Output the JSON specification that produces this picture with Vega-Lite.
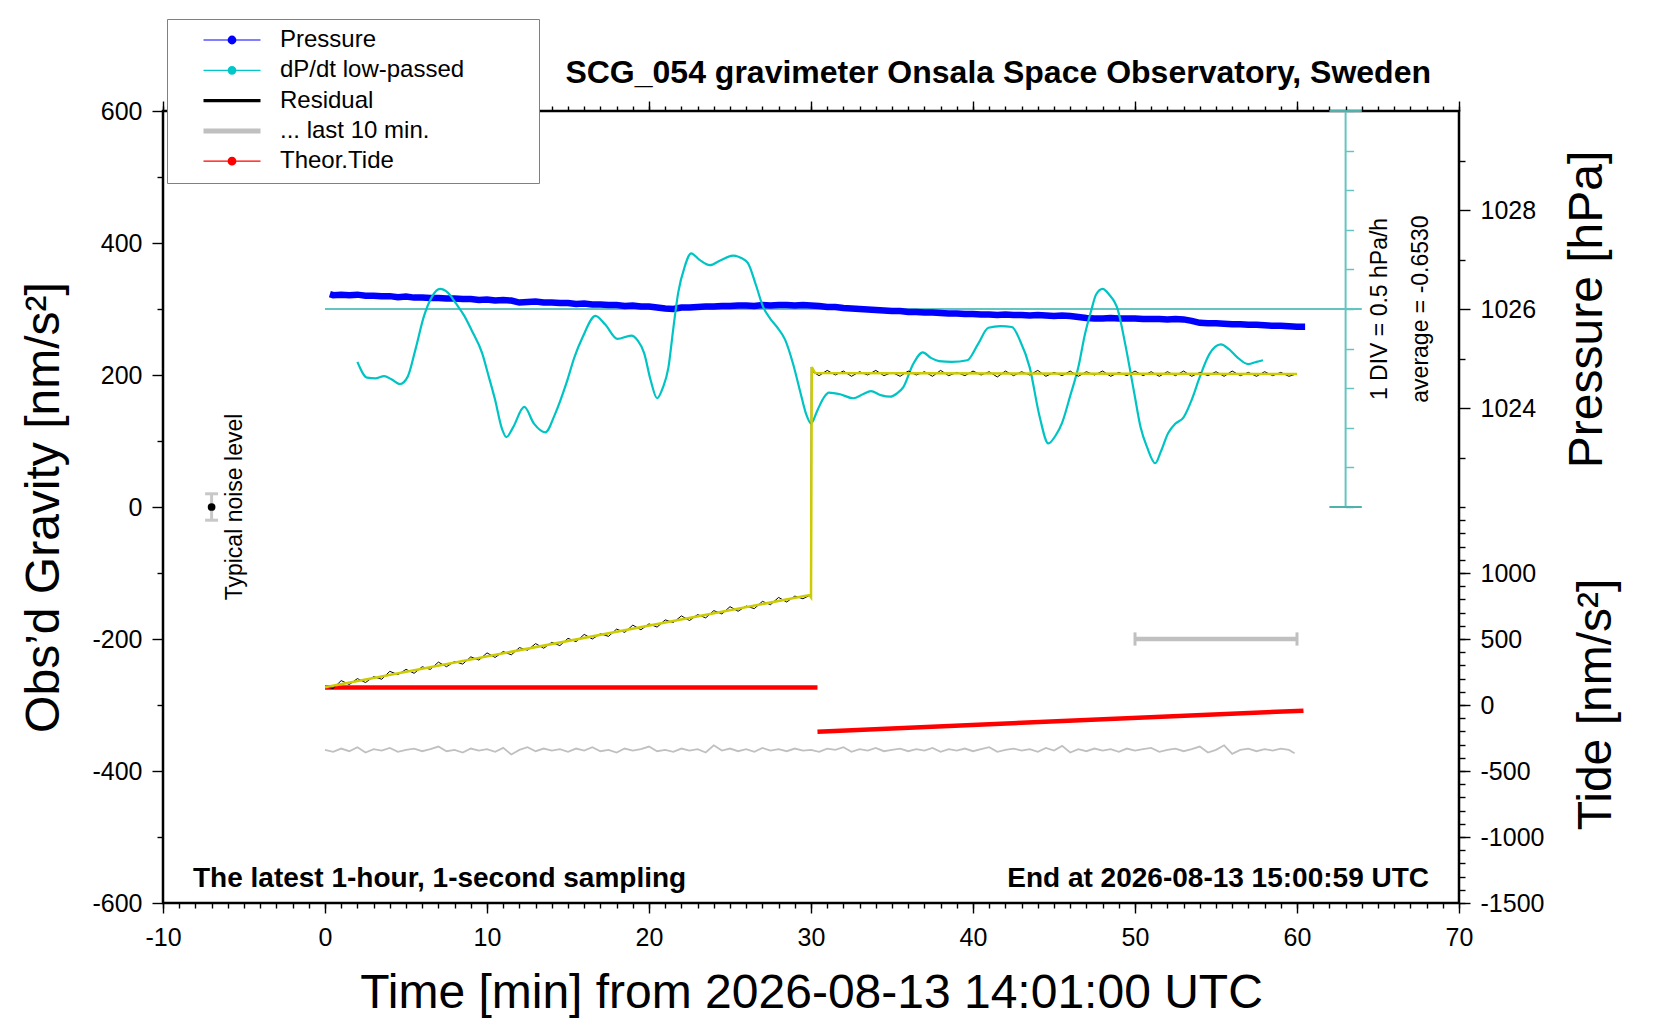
{
  "$schema": "https://vega.github.io/schema/vega-lite/v6.json",
  "width": 1296,
  "height": 792,
  "autosize": {"type": "none"},
  "padding": {"left": 163, "top": 111, "right": 201, "bottom": 117},
  "background": "white",
  "title": {
    "text": "SCG_054 gravimeter Onsala Space Observatory, Sweden",
    "anchor": "end",
    "frame": "group",
    "dx": -28,
    "offset": -96,
    "baseline": "alphabetic",
    "font": "Liberation Sans",
    "fontSize": 32,
    "fontWeight": "bold",
    "color": "black"
  },
  "config": {
    "font": "Liberation Sans",
    "view": {"stroke": "black", "strokeWidth": 2.5},
    "axis": {
      "grid": false,
      "domain": false,
      "tickColor": "black",
      "tickWidth": 1.4,
      "labelFont": "Liberation Sans",
      "labelFontSize": 25,
      "labelColor": "black",
      "labelFlush": false,
      "labelOverlap": false,
      "labelExpr": "'' + datum.value",
      "titleFont": "Liberation Sans",
      "titleFontWeight": "normal",
      "titleColor": "black",
      "titleFontSize": 48
    },
    "text": {"font": "Liberation Sans", "color": "black"}
  },
  "datasets": {
    "pressure": [
      {"t": 0.3, "p": 1026.3}, {"t": 0.5, "p": 1026.28}, {"t": 1, "p": 1026.29}, {"t": 1.5, "p": 1026.28}, {"t": 2, "p": 1026.29},
      {"t": 2.5, "p": 1026.27}, {"t": 3, "p": 1026.27}, {"t": 3.5, "p": 1026.26}, {"t": 4, "p": 1026.26}, {"t": 4.5, "p": 1026.24},
      {"t": 5, "p": 1026.25}, {"t": 5.5, "p": 1026.23}, {"t": 6, "p": 1026.23}, {"t": 6.5, "p": 1026.22}, {"t": 7, "p": 1026.22},
      {"t": 7.5, "p": 1026.21}, {"t": 8, "p": 1026.21}, {"t": 8.5, "p": 1026.2}, {"t": 9, "p": 1026.2}, {"t": 9.5, "p": 1026.18},
      {"t": 10, "p": 1026.19}, {"t": 10.5, "p": 1026.17}, {"t": 11, "p": 1026.18}, {"t": 11.5, "p": 1026.17}, {"t": 12, "p": 1026.13},
      {"t": 12.5, "p": 1026.14}, {"t": 13, "p": 1026.15}, {"t": 13.5, "p": 1026.13}, {"t": 14, "p": 1026.13}, {"t": 14.5, "p": 1026.12},
      {"t": 15, "p": 1026.12}, {"t": 15.5, "p": 1026.1}, {"t": 16, "p": 1026.11}, {"t": 16.5, "p": 1026.09}, {"t": 17, "p": 1026.09},
      {"t": 17.5, "p": 1026.08}, {"t": 18, "p": 1026.08}, {"t": 18.5, "p": 1026.06}, {"t": 19, "p": 1026.07}, {"t": 19.5, "p": 1026.05},
      {"t": 20, "p": 1026.05}, {"t": 20.5, "p": 1026.03}, {"t": 21, "p": 1026.01}, {"t": 21.5, "p": 1026.0}, {"t": 22, "p": 1026.03},
      {"t": 22.5, "p": 1026.03}, {"t": 23, "p": 1026.04}, {"t": 23.5, "p": 1026.05}, {"t": 24, "p": 1026.05}, {"t": 24.5, "p": 1026.06},
      {"t": 25, "p": 1026.06}, {"t": 25.5, "p": 1026.07}, {"t": 26, "p": 1026.07}, {"t": 26.5, "p": 1026.06}, {"t": 27, "p": 1026.08},
      {"t": 27.5, "p": 1026.07}, {"t": 28, "p": 1026.08}, {"t": 28.5, "p": 1026.08}, {"t": 29, "p": 1026.07}, {"t": 29.5, "p": 1026.08},
      {"t": 30, "p": 1026.07}, {"t": 30.5, "p": 1026.06}, {"t": 31, "p": 1026.04}, {"t": 31.5, "p": 1026.04}, {"t": 32, "p": 1026.02},
      {"t": 32.5, "p": 1026.01}, {"t": 33, "p": 1026.0}, {"t": 33.5, "p": 1025.99}, {"t": 34, "p": 1025.98}, {"t": 34.5, "p": 1025.97},
      {"t": 35, "p": 1025.96}, {"t": 35.5, "p": 1025.96}, {"t": 36, "p": 1025.94}, {"t": 36.5, "p": 1025.94}, {"t": 37, "p": 1025.93},
      {"t": 37.5, "p": 1025.93}, {"t": 38, "p": 1025.92}, {"t": 38.5, "p": 1025.91}, {"t": 39, "p": 1025.91}, {"t": 39.5, "p": 1025.9},
      {"t": 40, "p": 1025.9}, {"t": 40.5, "p": 1025.89}, {"t": 41, "p": 1025.89}, {"t": 41.5, "p": 1025.88}, {"t": 42, "p": 1025.89},
      {"t": 42.5, "p": 1025.88}, {"t": 43, "p": 1025.88}, {"t": 43.5, "p": 1025.87}, {"t": 44, "p": 1025.88}, {"t": 44.5, "p": 1025.87},
      {"t": 45, "p": 1025.86}, {"t": 45.5, "p": 1025.87}, {"t": 46, "p": 1025.86}, {"t": 46.5, "p": 1025.84}, {"t": 47, "p": 1025.82},
      {"t": 47.5, "p": 1025.81}, {"t": 48, "p": 1025.81}, {"t": 48.5, "p": 1025.82}, {"t": 49, "p": 1025.81}, {"t": 49.5, "p": 1025.81},
      {"t": 50, "p": 1025.81}, {"t": 50.5, "p": 1025.8}, {"t": 51, "p": 1025.8}, {"t": 51.5, "p": 1025.8}, {"t": 52, "p": 1025.79},
      {"t": 52.5, "p": 1025.8}, {"t": 53, "p": 1025.79}, {"t": 53.5, "p": 1025.76}, {"t": 54, "p": 1025.72}, {"t": 54.5, "p": 1025.71},
      {"t": 55, "p": 1025.71}, {"t": 55.5, "p": 1025.7}, {"t": 56, "p": 1025.69}, {"t": 56.5, "p": 1025.69}, {"t": 57, "p": 1025.68},
      {"t": 57.5, "p": 1025.68}, {"t": 58, "p": 1025.67}, {"t": 58.5, "p": 1025.66}, {"t": 59, "p": 1025.66}, {"t": 59.5, "p": 1025.65},
      {"t": 60, "p": 1025.64}, {"t": 60.5, "p": 1025.64}
    ],
    "dpdt": [
      {"t": 2.0, "v": -1.32}, {"t": 2.6, "v": -1.52}, {"t": 3.1, "v": -1.53}, {"t": 3.65, "v": -1.5}, {"t": 4.1, "v": -1.54},
      {"t": 4.63, "v": -1.6}, {"t": 5.1, "v": -1.51}, {"t": 5.6, "v": -1.15}, {"t": 6.1, "v": -0.75}, {"t": 6.6, "v": -0.5},
      {"t": 7.1, "v": -0.4}, {"t": 7.6, "v": -0.45}, {"t": 8.07, "v": -0.58}, {"t": 8.6, "v": -0.74}, {"t": 9.05, "v": -0.92},
      {"t": 9.7, "v": -1.21}, {"t": 10.1, "v": -1.5}, {"t": 10.5, "v": -1.8}, {"t": 10.9, "v": -2.15}, {"t": 11.2, "v": -2.27},
      {"t": 11.6, "v": -2.15}, {"t": 12.3, "v": -1.89}, {"t": 12.9, "v": -2.1}, {"t": 13.6, "v": -2.21}, {"t": 14.2, "v": -1.98},
      {"t": 14.9, "v": -1.59}, {"t": 15.4, "v": -1.26}, {"t": 15.9, "v": -1.01}, {"t": 16.7, "v": -0.74}, {"t": 17.3, "v": -0.85},
      {"t": 18.05, "v": -1.03}, {"t": 18.9, "v": -0.99}, {"t": 19.3, "v": -1.05}, {"t": 19.7, "v": -1.21}, {"t": 20.1, "v": -1.55},
      {"t": 20.5, "v": -1.78}, {"t": 20.85, "v": -1.65}, {"t": 21.2, "v": -1.39}, {"t": 21.5, "v": -0.9}, {"t": 21.8, "v": -0.45},
      {"t": 22.2, "v": -0.12}, {"t": 22.6, "v": 0.05}, {"t": 23.1, "v": -0.03}, {"t": 23.75, "v": -0.1}, {"t": 24.4, "v": -0.04},
      {"t": 25.2, "v": 0.02}, {"t": 25.7, "v": -0.01}, {"t": 26.1, "v": -0.07}, {"t": 26.6, "v": -0.35}, {"t": 27.05, "v": -0.63},
      {"t": 27.5, "v": -0.78}, {"t": 27.9, "v": -0.88}, {"t": 28.4, "v": -1.04}, {"t": 28.9, "v": -1.35}, {"t": 29.35, "v": -1.71},
      {"t": 29.7, "v": -1.98}, {"t": 30.0, "v": -2.1}, {"t": 30.4, "v": -1.93}, {"t": 30.8, "v": -1.77}, {"t": 31.1, "v": -1.71},
      {"t": 31.8, "v": -1.73}, {"t": 32.6, "v": -1.78}, {"t": 33.2, "v": -1.73}, {"t": 33.7, "v": -1.69}, {"t": 34.3, "v": -1.74},
      {"t": 34.9, "v": -1.76}, {"t": 35.3, "v": -1.72}, {"t": 35.7, "v": -1.64}, {"t": 36.3, "v": -1.35}, {"t": 36.9, "v": -1.2},
      {"t": 37.4, "v": -1.27}, {"t": 37.9, "v": -1.31}, {"t": 38.7, "v": -1.32}, {"t": 39.65, "v": -1.3}, {"t": 40.3, "v": -1.1},
      {"t": 40.95, "v": -0.89}, {"t": 41.7, "v": -0.87}, {"t": 42.4, "v": -0.88}, {"t": 42.9, "v": -1.05}, {"t": 43.5, "v": -1.39},
      {"t": 44.1, "v": -2.0}, {"t": 44.65, "v": -2.35}, {"t": 45.1, "v": -2.25}, {"t": 45.5, "v": -2.09}, {"t": 46.0, "v": -1.75},
      {"t": 46.5, "v": -1.39}, {"t": 46.9, "v": -0.98}, {"t": 47.3, "v": -0.67}, {"t": 47.6, "v": -0.47}, {"t": 48.0, "v": -0.4},
      {"t": 48.4, "v": -0.47}, {"t": 48.95, "v": -0.67}, {"t": 49.4, "v": -1.1}, {"t": 49.95, "v": -1.71}, {"t": 50.35, "v": -2.15},
      {"t": 50.75, "v": -2.4}, {"t": 51.25, "v": -2.6}, {"t": 51.6, "v": -2.45}, {"t": 52.05, "v": -2.22}, {"t": 52.5, "v": -2.1},
      {"t": 53.0, "v": -2.02}, {"t": 53.5, "v": -1.8}, {"t": 54.0, "v": -1.51}, {"t": 54.6, "v": -1.22}, {"t": 55.3, "v": -1.1},
      {"t": 55.8, "v": -1.16}, {"t": 56.3, "v": -1.26}, {"t": 57.0, "v": -1.35}, {"t": 57.5, "v": -1.32}, {"t": 57.9, "v": -1.3}
    ],
    "residual": [
      {"t": 0, "g": -272}, {"t": 0.5, "g": -275}, {"t": 1, "g": -263}, {"t": 1.5, "g": -269}, {"t": 2, "g": -260},
      {"t": 2.5, "g": -266}, {"t": 3, "g": -257}, {"t": 3.5, "g": -261}, {"t": 4, "g": -249}, {"t": 4.5, "g": -254},
      {"t": 5, "g": -246}, {"t": 5.5, "g": -252}, {"t": 6, "g": -242}, {"t": 6.5, "g": -246}, {"t": 7, "g": -235},
      {"t": 7.5, "g": -242}, {"t": 8, "g": -234}, {"t": 8.5, "g": -238}, {"t": 9, "g": -227}, {"t": 9.5, "g": -232},
      {"t": 10, "g": -221}, {"t": 10.5, "g": -228}, {"t": 11, "g": -219}, {"t": 11.5, "g": -224}, {"t": 12, "g": -213},
      {"t": 12.5, "g": -217}, {"t": 13, "g": -207}, {"t": 13.5, "g": -214}, {"t": 14, "g": -205}, {"t": 14.5, "g": -210},
      {"t": 15, "g": -199}, {"t": 15.5, "g": -204}, {"t": 16, "g": -193}, {"t": 16.5, "g": -200}, {"t": 17, "g": -192},
      {"t": 17.5, "g": -196}, {"t": 18, "g": -185}, {"t": 18.5, "g": -190}, {"t": 19, "g": -179}, {"t": 19.5, "g": -186},
      {"t": 20, "g": -177}, {"t": 20.5, "g": -182}, {"t": 21, "g": -171}, {"t": 21.5, "g": -175}, {"t": 22, "g": -165},
      {"t": 22.5, "g": -172}, {"t": 23, "g": -163}, {"t": 23.5, "g": -168}, {"t": 24, "g": -157}, {"t": 24.5, "g": -162},
      {"t": 25, "g": -151}, {"t": 25.5, "g": -158}, {"t": 26, "g": -150}, {"t": 26.5, "g": -154}, {"t": 27, "g": -143},
      {"t": 27.5, "g": -148}, {"t": 28, "g": -137}, {"t": 28.5, "g": -144}, {"t": 29, "g": -135}, {"t": 29.5, "g": -139},
      {"t": 29.9, "g": -134}, {"t": 30.0, "g": -130}, {"t": 30.02, "g": 212}, {"t": 30.1, "g": 205}, {"t": 30.5, "g": 199},
      {"t": 31, "g": 207}, {"t": 31.5, "g": 200}, {"t": 32, "g": 206}, {"t": 32.5, "g": 198}, {"t": 33, "g": 205},
      {"t": 33.5, "g": 200}, {"t": 34, "g": 207}, {"t": 34.5, "g": 199}, {"t": 35, "g": 204}, {"t": 35.5, "g": 198},
      {"t": 36, "g": 206}, {"t": 36.5, "g": 200}, {"t": 37, "g": 205}, {"t": 37.5, "g": 198}, {"t": 38, "g": 207},
      {"t": 38.5, "g": 199}, {"t": 39, "g": 204}, {"t": 39.5, "g": 199}, {"t": 40, "g": 206}, {"t": 40.5, "g": 200},
      {"t": 41, "g": 205}, {"t": 41.5, "g": 197}, {"t": 42, "g": 206}, {"t": 42.5, "g": 199}, {"t": 43, "g": 205},
      {"t": 43.5, "g": 200}, {"t": 44, "g": 207}, {"t": 44.5, "g": 198}, {"t": 45, "g": 204}, {"t": 45.5, "g": 199},
      {"t": 46, "g": 206}, {"t": 46.5, "g": 198}, {"t": 47, "g": 205}, {"t": 47.5, "g": 200}, {"t": 48, "g": 206},
      {"t": 48.5, "g": 198}, {"t": 49, "g": 204}, {"t": 49.5, "g": 199}, {"t": 50, "g": 206}, {"t": 50.5, "g": 199},
      {"t": 51, "g": 205}, {"t": 51.5, "g": 198}, {"t": 52, "g": 205}, {"t": 52.5, "g": 199}, {"t": 53, "g": 206},
      {"t": 53.5, "g": 198}, {"t": 54, "g": 204}, {"t": 54.5, "g": 199}, {"t": 55, "g": 205}, {"t": 55.5, "g": 198},
      {"t": 56, "g": 206}, {"t": 56.5, "g": 199}, {"t": 57, "g": 204}, {"t": 57.5, "g": 198}, {"t": 58, "g": 205},
      {"t": 58.5, "g": 199}, {"t": 59, "g": 204}, {"t": 59.5, "g": 198}, {"t": 60, "g": 202}
    ],
    "fit": [
      {"t": 0, "g": -273}, {"t": 29.9, "g": -133.5}, {"t": 30.0, "g": -137}, {"t": 30.05, "g": 212}, {"t": 30.25, "g": 203}, {"t": 60, "g": 201.5}
    ],
    "noise": [
      {"t": 0, "g": -368}, {"t": 0.5, "g": -371}, {"t": 1, "g": -366}, {"t": 1.5, "g": -370}, {"t": 2, "g": -364},
      {"t": 2.5, "g": -372}, {"t": 3, "g": -367}, {"t": 3.5, "g": -369}, {"t": 4, "g": -365}, {"t": 4.5, "g": -371},
      {"t": 5, "g": -368}, {"t": 5.5, "g": -366}, {"t": 6, "g": -370}, {"t": 6.5, "g": -367}, {"t": 7, "g": -363},
      {"t": 7.5, "g": -370}, {"t": 8, "g": -368}, {"t": 8.5, "g": -372}, {"t": 9, "g": -366}, {"t": 9.5, "g": -369},
      {"t": 10, "g": -367}, {"t": 10.5, "g": -371}, {"t": 11, "g": -365}, {"t": 11.5, "g": -375}, {"t": 12, "g": -368},
      {"t": 12.5, "g": -364}, {"t": 13, "g": -370}, {"t": 13.5, "g": -366}, {"t": 14, "g": -369}, {"t": 14.5, "g": -367},
      {"t": 15, "g": -371}, {"t": 15.5, "g": -366}, {"t": 16, "g": -369}, {"t": 16.5, "g": -364}, {"t": 17, "g": -370},
      {"t": 17.5, "g": -368}, {"t": 18, "g": -372}, {"t": 18.5, "g": -366}, {"t": 19, "g": -369}, {"t": 19.5, "g": -367},
      {"t": 20, "g": -363}, {"t": 20.5, "g": -370}, {"t": 21, "g": -368}, {"t": 21.5, "g": -371}, {"t": 22, "g": -366},
      {"t": 22.5, "g": -369}, {"t": 23, "g": -367}, {"t": 23.5, "g": -372}, {"t": 24, "g": -361}, {"t": 24.5, "g": -369},
      {"t": 25, "g": -366}, {"t": 25.5, "g": -370}, {"t": 26, "g": -367}, {"t": 26.5, "g": -371}, {"t": 27, "g": -365},
      {"t": 27.5, "g": -369}, {"t": 28, "g": -367}, {"t": 28.5, "g": -370}, {"t": 29, "g": -366}, {"t": 29.5, "g": -369},
      {"t": 30, "g": -368}, {"t": 30.5, "g": -371}, {"t": 31, "g": -366}, {"t": 31.5, "g": -368}, {"t": 32, "g": -364},
      {"t": 32.5, "g": -371}, {"t": 33, "g": -367}, {"t": 33.5, "g": -369}, {"t": 34, "g": -365}, {"t": 34.5, "g": -370},
      {"t": 35, "g": -368}, {"t": 35.5, "g": -366}, {"t": 36, "g": -370}, {"t": 36.5, "g": -367}, {"t": 37, "g": -369},
      {"t": 37.5, "g": -365}, {"t": 38, "g": -371}, {"t": 38.5, "g": -367}, {"t": 39, "g": -369}, {"t": 39.5, "g": -366},
      {"t": 40, "g": -370}, {"t": 40.5, "g": -367}, {"t": 41, "g": -364}, {"t": 41.5, "g": -371}, {"t": 42, "g": -368},
      {"t": 42.5, "g": -366}, {"t": 43, "g": -369}, {"t": 43.5, "g": -367}, {"t": 44, "g": -371}, {"t": 44.5, "g": -365},
      {"t": 45, "g": -369}, {"t": 45.5, "g": -362}, {"t": 46, "g": -372}, {"t": 46.5, "g": -367}, {"t": 47, "g": -370},
      {"t": 47.5, "g": -366}, {"t": 48, "g": -369}, {"t": 48.5, "g": -367}, {"t": 49, "g": -371}, {"t": 49.5, "g": -366},
      {"t": 50, "g": -369}, {"t": 50.5, "g": -367}, {"t": 51, "g": -365}, {"t": 51.5, "g": -371}, {"t": 52, "g": -368},
      {"t": 52.5, "g": -366}, {"t": 53, "g": -370}, {"t": 53.5, "g": -367}, {"t": 54, "g": -363}, {"t": 54.5, "g": -372},
      {"t": 55, "g": -368}, {"t": 55.5, "g": -361}, {"t": 56, "g": -374}, {"t": 56.5, "g": -368}, {"t": 57, "g": -366},
      {"t": 57.5, "g": -370}, {"t": 58, "g": -367}, {"t": 58.5, "g": -369}, {"t": 59, "g": -366}, {"t": 59.5, "g": -368},
      {"t": 59.85, "g": -373}
    ],
    "tide": [
      {"t": 0, "tide": 132, "seg": "a"}, {"t": 30.4, "tide": 132, "seg": "a"},
      {"t": 30.4, "tide": -202, "seg": "b"}, {"t": 60.4, "tide": -43, "seg": "b"}
    ]
  },
  "resolve": {
    "scale": {"y": "independent"},
    "axis": {"x": "independent", "y": "independent"}
  },
  "layer": [
    {
      "data": {"values": [{}]},
      "mark": {"type": "rule", "color": "#66c4c0", "strokeWidth": 2},
      "encoding": {
        "x": {"datum": 0, "type": "quantitative", "scale": {"domain": [-10, 70], "nice": false, "zero": false}, "axis": null},
        "x2": {"datum": 64},
        "y": {"datum": -0.653, "type": "quantitative", "scale": {"domain": [-8.153, 1.847], "nice": false, "zero": false}, "axis": null}
      }
    },
    {
      "data": {"values": [{}]},
      "mark": {"type": "rule", "color": "#66c4c0", "strokeWidth": 2},
      "encoding": {
        "x": {"datum": 63, "type": "quantitative", "scale": {"domain": [-10, 70], "nice": false, "zero": false}, "axis": null},
        "y": {"datum": -3.153, "type": "quantitative", "scale": {"domain": [-8.153, 1.847], "nice": false, "zero": false}, "axis": null},
        "y2": {"datum": 1.847}
      }
    },
    {
      "data": {"values": [{"v": -3.153}, {"v": 1.847}]},
      "mark": {"type": "rule", "color": "#4fb0ac", "strokeWidth": 2},
      "encoding": {
        "x": {"datum": 62, "type": "quantitative", "scale": {"domain": [-10, 70], "nice": false, "zero": false}, "axis": null},
        "x2": {"datum": 64},
        "y": {"field": "v", "type": "quantitative", "scale": {"domain": [-8.153, 1.847], "nice": false, "zero": false}, "axis": null}
      }
    },
    {
      "data": {"values": [{}]},
      "mark": {"type": "rule", "opacity": 0},
      "encoding": {
        "y": {
          "datum": -0.653, "type": "quantitative",
          "scale": {"domain": [-8.153, 1.847], "nice": false, "zero": false},
          "axis": {
            "orient": "right", "offset": -113.4, "domain": false, "labels": false, "title": null,
            "values": [-3.153, -2.653, -2.153, -1.653, -1.153, -0.653, -0.153, 0.347, 0.847, 1.347, 1.847],
            "tickSize": 8, "tickColor": "#66c4c0", "tickWidth": 1.5
          }
        }
      }
    },
    {
      "data": {"name": "pressure"},
      "mark": {"type": "line", "color": "#0000ff", "strokeWidth": 6.5},
      "encoding": {
        "x": {"field": "t", "type": "quantitative", "scale": {"domain": [-10, 70], "nice": false, "zero": false}, "axis": null},
        "y": {"field": "p", "type": "quantitative", "scale": {"domain": [1014, 1030], "nice": false, "zero": false}, "axis": null}
      }
    },
    {
      "data": {"name": "dpdt"},
      "mark": {"type": "line", "color": "#00c4c4", "strokeWidth": 2.2, "interpolate": "monotone"},
      "encoding": {
        "x": {"field": "t", "type": "quantitative", "scale": {"domain": [-10, 70], "nice": false, "zero": false}, "axis": null},
        "y": {"field": "v", "type": "quantitative", "scale": {"domain": [-8.153, 1.847], "nice": false, "zero": false}, "axis": null}
      }
    },
    {
      "data": {"name": "tide"},
      "mark": {"type": "line", "color": "#ff0000", "strokeWidth": 4.5},
      "encoding": {
        "x": {"field": "t", "type": "quantitative", "scale": {"domain": [-10, 70], "nice": false, "zero": false}, "axis": null},
        "y": {"field": "tide", "type": "quantitative", "scale": {"domain": [-1500, 4500], "nice": false, "zero": false}, "axis": null},
        "detail": {"field": "seg", "type": "nominal"}
      }
    },
    {
      "data": {"name": "noise"},
      "mark": {"type": "line", "color": "#c0c0c0", "strokeWidth": 1.8},
      "encoding": {
        "x": {"field": "t", "type": "quantitative", "scale": {"domain": [-10, 70], "nice": false, "zero": false}, "axis": null},
        "y": {"field": "g", "type": "quantitative", "scale": {"domain": [-600, 600], "nice": false, "zero": false}, "axis": null}
      }
    },
    {
      "data": {"name": "residual"},
      "mark": {"type": "line", "color": "#000000", "strokeWidth": 1},
      "encoding": {
        "x": {"field": "t", "type": "quantitative", "scale": {"domain": [-10, 70], "nice": false, "zero": false}, "axis": null},
        "y": {"field": "g", "type": "quantitative", "scale": {"domain": [-600, 600], "nice": false, "zero": false}, "axis": null}
      }
    },
    {
      "data": {"name": "fit"},
      "mark": {"type": "line", "color": "#cccc00", "strokeWidth": 2.5},
      "encoding": {
        "x": {"field": "t", "type": "quantitative", "scale": {"domain": [-10, 70], "nice": false, "zero": false}, "axis": null},
        "y": {"field": "g", "type": "quantitative", "scale": {"domain": [-600, 600], "nice": false, "zero": false}, "axis": null}
      }
    },
    {
      "data": {"values": [{}]},
      "mark": {"type": "rule", "color": "#c8c8c8", "strokeWidth": 3},
      "encoding": {
        "x": {"datum": -7, "type": "quantitative", "scale": {"domain": [-10, 70], "nice": false, "zero": false}, "axis": null},
        "y": {"datum": -20, "type": "quantitative", "scale": {"domain": [-600, 600], "nice": false, "zero": false}, "axis": null},
        "y2": {"datum": 20}
      }
    },
    {
      "data": {"values": [{"g": -20}, {"g": 20}]},
      "mark": {"type": "rule", "color": "#c8c8c8", "strokeWidth": 3},
      "encoding": {
        "x": {"datum": -7.4, "type": "quantitative", "scale": {"domain": [-10, 70], "nice": false, "zero": false}, "axis": null},
        "x2": {"datum": -6.6},
        "y": {"field": "g", "type": "quantitative", "scale": {"domain": [-600, 600], "nice": false, "zero": false}, "axis": null}
      }
    },
    {
      "data": {"values": [{}]},
      "mark": {"type": "point", "filled": true, "color": "black", "size": 60, "opacity": 1},
      "encoding": {
        "x": {"datum": -7, "type": "quantitative", "scale": {"domain": [-10, 70], "nice": false, "zero": false}, "axis": null},
        "y": {"datum": 0, "type": "quantitative", "scale": {"domain": [-600, 600], "nice": false, "zero": false}, "axis": null}
      }
    },
    {
      "data": {"values": [{}]},
      "mark": {"type": "rule", "color": "#c0c0c0", "strokeWidth": 4.5},
      "encoding": {
        "x": {"datum": 50, "type": "quantitative", "scale": {"domain": [-10, 70], "nice": false, "zero": false}, "axis": null},
        "x2": {"datum": 60},
        "y": {"datum": -200, "type": "quantitative", "scale": {"domain": [-600, 600], "nice": false, "zero": false}, "axis": null}
      }
    },
    {
      "data": {"values": [{"t": 50}, {"t": 60}]},
      "mark": {"type": "rule", "color": "#c0c0c0", "strokeWidth": 3},
      "encoding": {
        "x": {"field": "t", "type": "quantitative", "scale": {"domain": [-10, 70], "nice": false, "zero": false}, "axis": null},
        "y": {"datum": -210, "type": "quantitative", "scale": {"domain": [-600, 600], "nice": false, "zero": false}, "axis": null},
        "y2": {"datum": -190}
      }
    },
    {
      "data": {"values": [{}]},
      "mark": {"type": "text", "angle": 270, "fontSize": 23, "align": "center", "baseline": "middle"},
      "encoding": {
        "x": {"datum": -5.56, "type": "quantitative", "scale": {"domain": [-10, 70], "nice": false, "zero": false}, "axis": null},
        "y": {"datum": 0, "type": "quantitative", "scale": {"domain": [-600, 600], "nice": false, "zero": false}, "axis": null},
        "text": {"value": "Typical noise level"}
      }
    },
    {
      "data": {"values": [{}]},
      "mark": {"type": "text", "angle": 270, "fontSize": 23, "align": "center", "baseline": "middle"},
      "encoding": {
        "x": {"datum": 65.12, "type": "quantitative", "scale": {"domain": [-10, 70], "nice": false, "zero": false}, "axis": null},
        "y": {"datum": 300, "type": "quantitative", "scale": {"domain": [-600, 600], "nice": false, "zero": false}, "axis": null},
        "text": {"value": "1 DIV = 0.5 hPa/h"}
      }
    },
    {
      "data": {"values": [{}]},
      "mark": {"type": "text", "angle": 270, "fontSize": 23, "align": "center", "baseline": "middle"},
      "encoding": {
        "x": {"datum": 67.65, "type": "quantitative", "scale": {"domain": [-10, 70], "nice": false, "zero": false}, "axis": null},
        "y": {"datum": 300, "type": "quantitative", "scale": {"domain": [-600, 600], "nice": false, "zero": false}, "axis": null},
        "text": {"value": "average = -0.6530"}
      }
    },
    {
      "data": {"values": [{}]},
      "mark": {"type": "text", "fontSize": 28, "fontWeight": "bold", "align": "left", "baseline": "alphabetic"},
      "encoding": {
        "x": {"datum": -8.15, "type": "quantitative", "scale": {"domain": [-10, 70], "nice": false, "zero": false}, "axis": null},
        "y": {"datum": -575.3, "type": "quantitative", "scale": {"domain": [-600, 600], "nice": false, "zero": false}, "axis": null},
        "text": {"value": "The latest 1-hour, 1-second sampling"}
      }
    },
    {
      "data": {"values": [{}]},
      "mark": {"type": "text", "fontSize": 28, "fontWeight": "bold", "align": "right", "baseline": "alphabetic"},
      "encoding": {
        "x": {"datum": 68.15, "type": "quantitative", "scale": {"domain": [-10, 70], "nice": false, "zero": false}, "axis": null},
        "y": {"datum": -575.3, "type": "quantitative", "scale": {"domain": [-600, 600], "nice": false, "zero": false}, "axis": null},
        "text": {"value": "End at 2026-08-13 15:00:59 UTC"}
      }
    },
    {
      "data": {"values": [{}]},
      "mark": {"type": "rule", "opacity": 0},
      "encoding": {
        "x": {
          "datum": 0, "type": "quantitative",
          "scale": {"domain": [-10, 70], "nice": false, "zero": false},
          "axis": {
            "orient": "bottom", "values": [-10, 0, 10, 20, 30, 40, 50, 60, 70],
            "tickSize": 10, "labelPadding": 12,
            "title": "Time [min] from 2026-08-13 14:01:00 UTC",
            "titleFontSize": 48, "titleX": 648, "titleY": 104, "titleAlign": "center", "titleBaseline": "alphabetic"
          }
        }
      }
    },
    {
      "data": {"values": [{}]},
      "mark": {"type": "rule", "opacity": 0},
      "encoding": {
        "x": {
          "datum": 0, "type": "quantitative",
          "scale": {"domain": [-10, 70], "nice": false, "zero": false},
          "axis": {
            "orient": "bottom", "labels": false, "title": null, "tickSize": 5,
            "values": [-10, -9, -8, -7, -6, -5, -4, -3, -2, -1, 0, 1, 2, 3, 4, 5, 6, 7, 8, 9, 10, 11, 12, 13, 14, 15, 16, 17, 18, 19, 20, 21, 22, 23, 24, 25, 26, 27, 28, 29, 30, 31, 32, 33, 34, 35, 36, 37, 38, 39, 40, 41, 42, 43, 44, 45, 46, 47, 48, 49, 50, 51, 52, 53, 54, 55, 56, 57, 58, 59, 60, 61, 62, 63, 64, 65, 66, 67, 68, 69, 70]
          }
        }
      }
    },
    {
      "data": {"values": [{}]},
      "mark": {"type": "rule", "opacity": 0},
      "encoding": {
        "x": {
          "datum": 0, "type": "quantitative",
          "scale": {"domain": [-10, 70], "nice": false, "zero": false},
          "axis": {"orient": "top", "labels": false, "title": null, "tickSize": 10, "values": [-10, 0, 10, 20, 30, 40, 50, 60, 70]}
        }
      }
    },
    {
      "data": {"values": [{}]},
      "mark": {"type": "rule", "opacity": 0},
      "encoding": {
        "x": {
          "datum": 0, "type": "quantitative",
          "scale": {"domain": [-10, 70], "nice": false, "zero": false},
          "axis": {
            "orient": "top", "labels": false, "title": null, "tickSize": 5,
            "values": [-10, -9, -8, -7, -6, -5, -4, -3, -2, -1, 0, 1, 2, 3, 4, 5, 6, 7, 8, 9, 10, 11, 12, 13, 14, 15, 16, 17, 18, 19, 20, 21, 22, 23, 24, 25, 26, 27, 28, 29, 30, 31, 32, 33, 34, 35, 36, 37, 38, 39, 40, 41, 42, 43, 44, 45, 46, 47, 48, 49, 50, 51, 52, 53, 54, 55, 56, 57, 58, 59, 60, 61, 62, 63, 64, 65, 66, 67, 68, 69, 70]
          }
        }
      }
    },
    {
      "data": {"values": [{}]},
      "mark": {"type": "rule", "opacity": 0},
      "encoding": {
        "y": {
          "datum": 0, "type": "quantitative",
          "scale": {"domain": [-600, 600], "nice": false, "zero": false},
          "axis": {
            "orient": "left", "values": [-600, -400, -200, 0, 200, 400, 600],
            "tickSize": 11, "labelPadding": 10,
            "title": "Obs’d Gravity [nm/s²]",
            "titleAngle": 270, "titleX": -105, "titleY": 396, "titleAlign": "center", "titleBaseline": "alphabetic"
          }
        }
      }
    },
    {
      "data": {"values": [{}]},
      "mark": {"type": "rule", "opacity": 0},
      "encoding": {
        "y": {
          "datum": 0, "type": "quantitative",
          "scale": {"domain": [-600, 600], "nice": false, "zero": false},
          "axis": {"orient": "left", "labels": false, "title": null, "tickSize": 6, "values": [-500, -300, -100, 100, 300, 500]}
        }
      }
    },
    {
      "data": {"values": [{}]},
      "mark": {"type": "rule", "opacity": 0},
      "encoding": {
        "y": {
          "datum": 1026, "type": "quantitative",
          "scale": {"domain": [1014, 1030], "nice": false, "zero": false},
          "axis": {
            "orient": "right", "values": [1024, 1026, 1028],
            "tickSize": 11, "labelPadding": 10,
            "title": "Pressure [hPa]",
            "titleAngle": 270, "titleX": 142, "titleY": 198, "titleAlign": "center", "titleBaseline": "alphabetic"
          }
        }
      }
    },
    {
      "data": {"values": [{}]},
      "mark": {"type": "rule", "opacity": 0},
      "encoding": {
        "y": {
          "datum": 1026, "type": "quantitative",
          "scale": {"domain": [1014, 1030], "nice": false, "zero": false},
          "axis": {"orient": "right", "labels": false, "title": null, "tickSize": 6, "values": [1023, 1025, 1027, 1029]}
        }
      }
    },
    {
      "data": {"values": [{}]},
      "mark": {"type": "rule", "opacity": 0},
      "encoding": {
        "y": {
          "datum": 0, "type": "quantitative",
          "scale": {"domain": [-1500, 4500], "nice": false, "zero": false},
          "axis": {
            "orient": "right", "values": [-1500, -1000, -500, 0, 500, 1000],
            "tickSize": 11, "labelPadding": 10,
            "title": "Tide [nm/s²]",
            "titleAngle": 270, "titleX": 151, "titleY": 593, "titleAlign": "center", "titleBaseline": "alphabetic"
          }
        }
      }
    },
    {
      "data": {"values": [{}]},
      "mark": {"type": "rule", "opacity": 0},
      "encoding": {
        "y": {
          "datum": 0, "type": "quantitative",
          "scale": {"domain": [-1500, 4500], "nice": false, "zero": false},
          "axis": {
            "orient": "right", "labels": false, "title": null, "tickSize": 6,
            "values": [-1500, -1400, -1300, -1200, -1100, -1000, -900, -800, -700, -600, -500, -400, -300, -200, -100, 0, 100, 200, 300, 400, 500, 600, 700, 800, 900, 1000, 1100, 1200, 1300, 1400, 1500]
          }
        }
      }
    },
    {
      "data": {"values": [{"s": "Pressure"}, {"s": "dP/dt low-passed"}, {"s": "Residual"}, {"s": "... last 10 min."}, {"s": "Theor.Tide"}]},
      "mark": {"type": "point", "opacity": 0, "size": 361},
      "encoding": {
        "color": {
          "field": "s", "type": "nominal",
          "scale": {
            "domain": ["Pressure", "dP/dt low-passed", "Residual", "... last 10 min.", "Theor.Tide"],
            "range": ["#0000ff", "#00c8c8", "#000000", "#c0c0c0", "#ff0000"]
          },
          "legend": {
            "orient": "none", "legendX": 4, "legendY": -92,
            "title": " ", "titleOrient": "right", "titlePadding": 65.5, "titleFontSize": 24,
            "padding": 9, "rowPadding": 6.3,
            "fillColor": "white", "strokeColor": "#808080",
            "labelFont": "Liberation Sans", "labelFontSize": 24, "labelColor": "black", "labelLimit": 500,
            "symbolSize": 361, "symbolOffset": 44, "labelOffset": 36, "symbolOpacity": 1, "symbolStrokeWidth": 1.2,
            "zindex": 2
          }
        },
        "shape": {
          "field": "s", "type": "nominal",
          "scale": {
            "domain": ["Pressure", "dP/dt low-passed", "Residual", "... last 10 min.", "Theor.Tide"],
            "range": [
              "M-3,0L3,0M-0.1,0A0.1,0.1,0,1,1,0.1,0A0.1,0.1,0,1,1,-0.1,0M-0.2,0A0.2,0.2,0,1,1,0.2,0A0.2,0.2,0,1,1,-0.2,0M-0.3,0A0.3,0.3,0,1,1,0.3,0A0.3,0.3,0,1,1,-0.3,0M-0.4,0A0.4,0.4,0,1,1,0.4,0A0.4,0.4,0,1,1,-0.4,0",
              "M-3,0L3,0M-0.1,0A0.1,0.1,0,1,1,0.1,0A0.1,0.1,0,1,1,-0.1,0M-0.2,0A0.2,0.2,0,1,1,0.2,0A0.2,0.2,0,1,1,-0.2,0M-0.3,0A0.3,0.3,0,1,1,0.3,0A0.3,0.3,0,1,1,-0.3,0M-0.4,0A0.4,0.4,0,1,1,0.4,0A0.4,0.4,0,1,1,-0.4,0",
              "M-3,-0.1L3,-0.1M-3,0L3,0M-3,0.1L3,0.1",
              "M-3,-0.2L3,-0.2M-3,-0.1L3,-0.1M-3,0L3,0M-3,0.1L3,0.1M-3,0.2L3,0.2",
              "M-3,0L3,0M-0.1,0A0.1,0.1,0,1,1,0.1,0A0.1,0.1,0,1,1,-0.1,0M-0.2,0A0.2,0.2,0,1,1,0.2,0A0.2,0.2,0,1,1,-0.2,0M-0.3,0A0.3,0.3,0,1,1,0.3,0A0.3,0.3,0,1,1,-0.3,0M-0.4,0A0.4,0.4,0,1,1,0.4,0A0.4,0.4,0,1,1,-0.4,0"
            ]
          }
        }
      }
    }
  ]
}
